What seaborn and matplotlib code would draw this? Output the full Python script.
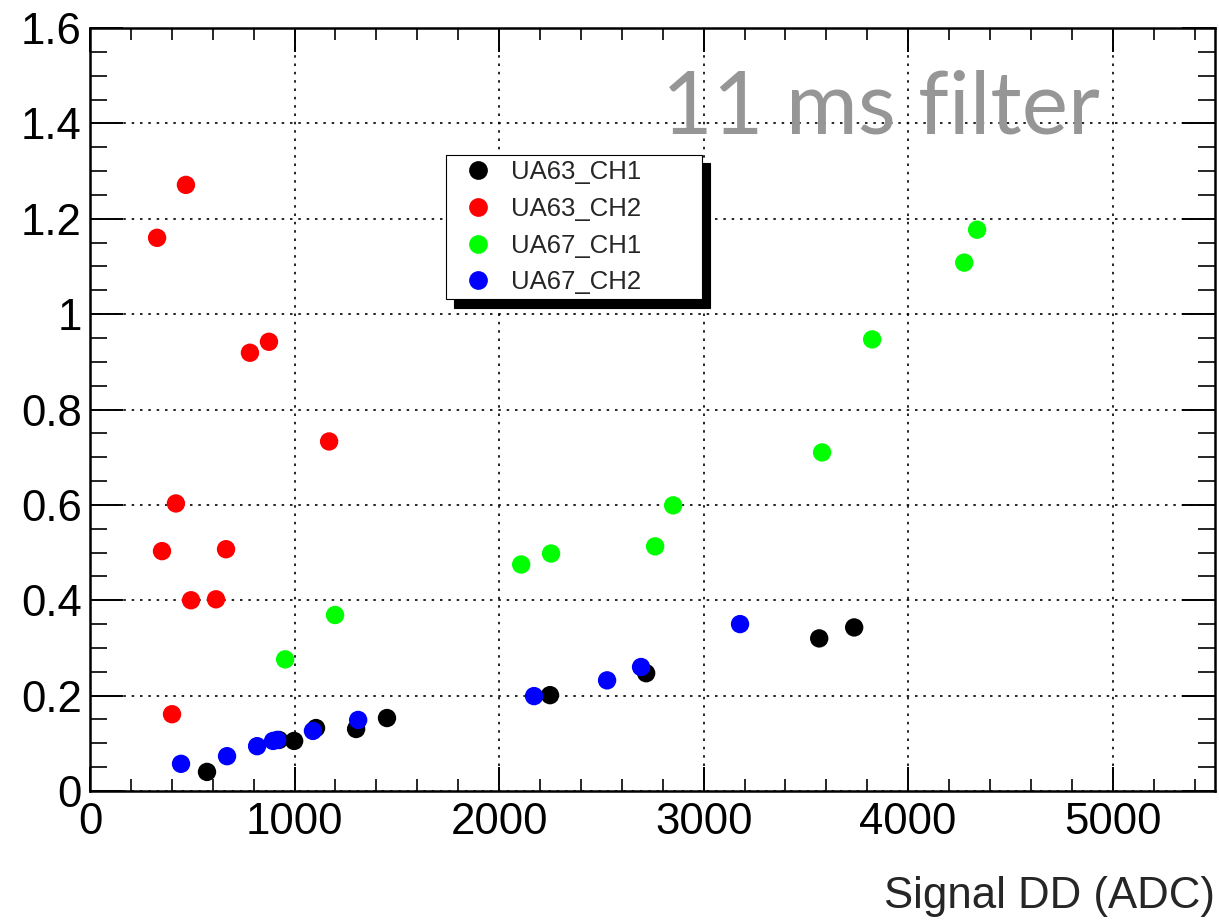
import numpy as np
import pandas as pd
import matplotlib
matplotlib.use("Agg")
import matplotlib.pyplot as plt
from matplotlib.lines import Line2D
from matplotlib.ticker import FixedLocator, MultipleLocator
import seaborn as sns

# Values
ua63_ch1_x = [572, 924, 998, 1105, 1301, 1452, 2249, 2719, 3565, 3736]
ua63_ch1_y = [0.040, 0.107, 0.105, 0.132, 0.130, 0.153, 0.201, 0.247, 0.320, 0.343]
ua63_ch2_x = [328, 469, 782, 875, 1169, 420, 352, 665, 494, 616, 401]
ua63_ch2_y = [1.160, 1.271, 0.919, 0.942, 0.733, 0.603, 0.503, 0.507, 0.400, 0.402, 0.161]
ua67_ch1_x = [954, 1198, 2108, 2254, 2763, 2851, 3579, 3824, 4274, 4337]
ua67_ch1_y = [0.276, 0.369, 0.475, 0.498, 0.513, 0.599, 0.710, 0.947, 1.108, 1.177]
ua67_ch2_x = [445, 670, 817, 895, 915, 1090, 1311, 2171, 2528, 2694, 3178]
ua67_ch2_y = [0.057, 0.073, 0.094, 0.105, 0.107, 0.126, 0.149, 0.199, 0.232, 0.260, 0.350]

series_names = ["UA63_CH1", "UA63_CH2", "UA67_CH1", "UA67_CH2"]
series_colors = ["#000000", "#ff0000", "#00ff00", "#0000ff"]

x_ticks = [0, 1000, 2000, 3000, 4000, 5000]
x_tick_labels = ["0", "1000", "2000", "3000", "4000", "5000"]
y_ticks = [0, 0.2, 0.4, 0.6, 0.8, 1.0, 1.2, 1.4, 1.6]
y_tick_labels = ["0", "0.2", "0.4", "0.6", "0.8", "1", "1.2", "1.4", "1.6"]

x_label = "Signal DD (ADC)"
note_text = "11 ms filter"


def build_frame():
    """Stack the four series into one long table for seaborn."""
    parts = []
    for name, xs, ys in zip(series_names,
                            [ua63_ch1_x, ua63_ch2_x, ua67_ch1_x, ua67_ch2_x],
                            [ua63_ch1_y, ua63_ch2_y, ua67_ch1_y, ua67_ch2_y]):
        parts.append(pd.DataFrame({"signal": xs, "value": ys, "series": name}))
    return pd.concat(parts, ignore_index=True)


df = build_frame()

sns.set_style("white")
plt.rcParams["font.family"] = ["Liberation Sans", "DejaVu Sans"]

fig = plt.figure(figsize=(12.19, 9.24), dpi=100)
ax = fig.add_axes([90 / 1219, 133 / 924, 1125 / 1219, 763 / 924])

sns.scatterplot(
    data=df, x="signal", y="value", hue="series",
    palette=dict(zip(series_names, series_colors)),
    s=175, linewidth=0, legend=False, ax=ax, zorder=3,
)

ax.set_xlim(0, 5500)
ax.set_ylim(0, 1.6)
ax.xaxis.set_major_locator(FixedLocator(x_ticks))
ax.set_xticklabels(x_tick_labels)
ax.xaxis.set_minor_locator(MultipleLocator(200))
ax.yaxis.set_major_locator(FixedLocator(y_ticks))
ax.set_yticklabels(y_tick_labels)
ax.yaxis.set_minor_locator(MultipleLocator(0.05))

ax.tick_params(axis="x", which="major", direction="in", length=17, width=1.4,
               top=True, bottom=True, labelsize=31.5, pad=8, colors="black")
ax.tick_params(axis="x", which="minor", direction="in", length=8.5, width=1.4,
               top=True, bottom=True)
ax.tick_params(axis="y", which="major", direction="in", length=24, width=1.4,
               left=True, right=True, labelsize=31.5, pad=6, colors="black")
ax.tick_params(axis="y", which="minor", direction="in", length=12, width=1.4,
               left=True, right=True)

for sp in ax.spines.values():
    sp.set_visible(True)
    sp.set_color("black")
    sp.set_linewidth(1.8)

ax.set_axisbelow(True)
ax.grid(True, which="major", color="black", linewidth=1.2, linestyle=(0, (1.5, 3.5)))

ax.set_xlabel(x_label, loc="right", fontsize=31.5, labelpad=24)
ax.set_ylabel("")

# big grey annotation in the upper right
ax.text(0.898, 0.862, note_text, transform=ax.transAxes, ha="right", va="baseline",
        fontsize=63, color="#969696", family=["Lato", "DejaVu Sans"])

# legend with hard black shadow
handles = [Line2D([], [], linestyle="", marker="o", markersize=13.5,
                  markerfacecolor=c, markeredgewidth=0) for c in series_colors]
leg = ax.legend(
    handles, series_names, loc="upper left",
    bbox_to_anchor=(0.3164, 0.7336, 0.2276, 0.1), mode="expand",
    borderaxespad=0, frameon=True, fancybox=False, framealpha=1,
    edgecolor="black", fontsize=18.5, borderpad=0.19, labelspacing=0.5,
    handlelength=2.1, handletextpad=0.23,
    shadow={"ox": 6, "oy": -6, "facecolor": "black", "edgecolor": "black", "alpha": 1},
)
leg.get_frame().set_linewidth(0.8)
leg.set_zorder(5)

fig.savefig("out.png", dpi=100)
